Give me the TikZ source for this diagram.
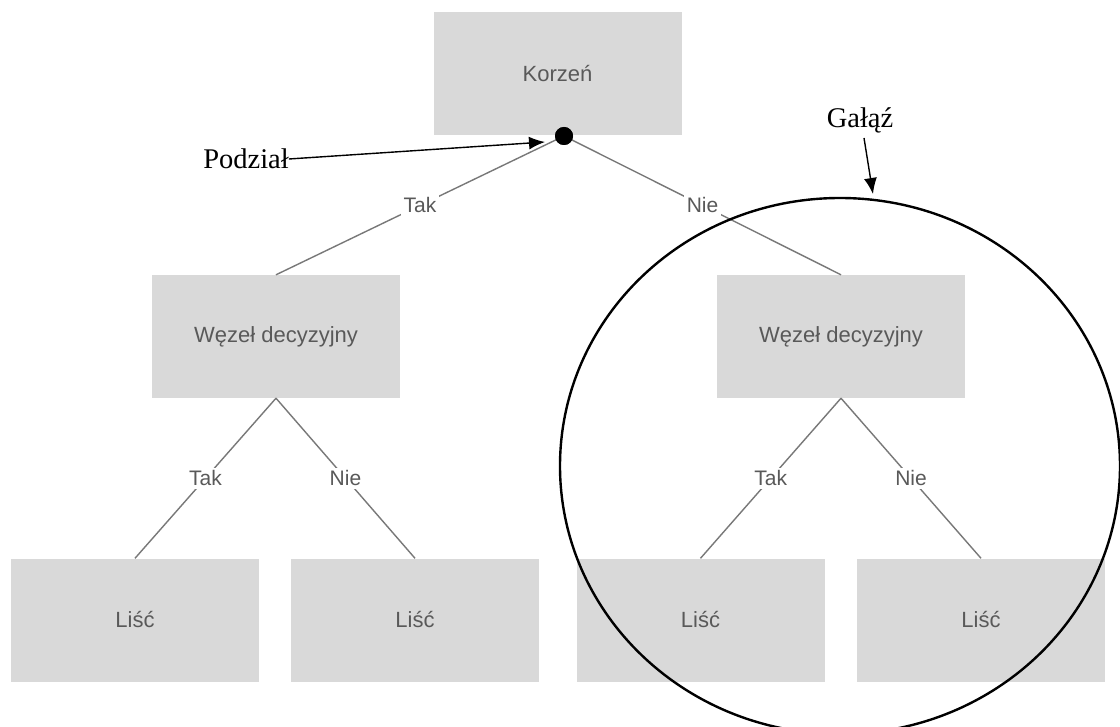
\documentclass[tikz,border=0pt]{standalone}
\usepackage{fontspec}
\setmainfont{Liberation Serif}
\newfontfamily\boxfont{Liberation Sans}
\usetikzlibrary{arrows.meta}
\definecolor{boxgrey}{HTML}{D9D9D9}
\definecolor{textgrey}{HTML}{595959}
\definecolor{linegrey}{HTML}{787878}
\begin{document}
\begin{tikzpicture}[x=1pt,y=-1pt,
  treebox/.style={fill=boxgrey, minimum width=248pt, minimum height=123pt, inner sep=0pt,
    font=\boxfont\fontsize{22}{26}\selectfont, text=textgrey},
  branch/.style={draw=linegrey, line width=1.4pt},
  edgelab/.style={fill=white, inner sep=3pt, font=\boxfont\fontsize{21}{25}\selectfont, text=textgrey},
  callout/.style={font=\fontsize{28.5}{33}\selectfont, inner sep=0pt, text=black},
  pointer/.style={draw=black, line width=1.4pt, -{Latex[length=16pt,width=13pt]}}
]
\useasboundingbox (0,0) rectangle (1120,727);
\fill[white] (0,0) rectangle (1120,727);

% boxes
\node[treebox] (root) at (557.5,73.5) {Korzeń};
\node[treebox] (dl) at (276,336.5) {Węzeł decyzyjny};
\node[treebox] (dr) at (841,336.5) {Węzeł decyzyjny};
\node[treebox] (l1) at (135,620) {Liść};
\node[treebox] (l2) at (415,620) {Liść};
\node[treebox] (l3) at (700.5,620) {Liść};
\node[treebox] (l4) at (981,620) {Liść};

% split point
\node[circle, fill=black, minimum size=18pt, inner sep=0pt] (split) at (564,136) {};

% branches
\draw[branch] (split.center) -- (dl.north) node[edgelab, midway] {Tak};
\draw[branch] (split.center) -- (dr.north) node[edgelab, midway] {Nie};
\draw[branch] (dl.south) -- (l1.north) node[edgelab, midway] {Tak};
\draw[branch] (dl.south) -- (l2.north) node[edgelab, midway] {Nie};
\draw[branch] (dr.south) -- (l3.north) node[edgelab, midway] {Tak};
\draw[branch] (dr.south) -- (l4.north) node[edgelab, midway] {Nie};
\node[circle, fill=black, minimum size=18pt, inner sep=0pt] at (split) {};

% callouts
\node[callout] (pod) at (246,159) {Podział};
\coordinate (podtip) at (545,142);
\draw[pointer] (pod.east) -- (podtip);

\node[callout] (gal) at (860,120) {Gałąź};
\coordinate (galstart) at (864,138);
\coordinate (galtip) at (873,194);
\draw[pointer] (galstart) -- (galtip);

% branch circle
\draw[black, line width=2.4pt] (840,466) ellipse [x radius=280, y radius=268];
\end{tikzpicture}
\end{document}
